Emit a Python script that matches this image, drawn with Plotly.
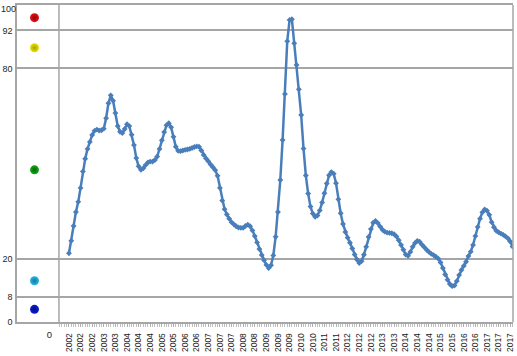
import plotly.graph_objects as go

# ---- data ----
start_year = 2002
n_months = 192
months = [f"{start_year + k // 12}-{k % 12 + 1:02d}" for k in range(n_months)]

values = [
    21.7, 25.6, 30.3, 34.7, 37.9, 42.3, 47.5, 51.5, 54.6, 56.8,
    59.0, 60.3, 60.7, 60.4, 60.5, 61.0, 64.3, 69.0, 71.5, 69.8,
    65.9, 61.8, 60.0, 59.6, 60.9, 62.4, 61.8, 59.1, 55.8, 51.7,
    49.1, 48.0, 48.5, 49.5, 50.3, 50.6, 50.6, 51.1, 52.2, 54.6,
    57.3, 59.9, 62.1, 62.7, 61.4, 58.4, 55.3, 54.0, 53.9, 54.1,
    54.3, 54.4, 54.6, 54.9, 55.2, 55.4, 55.3, 54.1, 52.7, 51.6,
    50.7, 49.7, 48.8, 47.9, 46.1, 42.3, 38.3, 35.6, 33.9, 32.6,
    31.5, 30.8, 30.2, 29.8, 29.7, 29.7, 30.3, 30.7, 30.2, 28.9,
    27.1, 25.1, 23.0, 21.1, 19.5, 18.0, 17.0, 17.9, 21.0, 26.9,
    34.7, 44.8, 57.4, 71.9, 88.6, 95.3, 95.5, 87.9, 81.1, 73.4,
    65.3, 54.7, 46.2, 40.5, 36.4, 34.2, 33.2, 33.6, 35.2, 37.7,
    40.6, 43.7, 46.3, 47.3, 46.8, 43.8, 38.7, 34.3, 30.9, 28.4,
    26.6, 25.0, 23.2, 21.3, 19.7, 18.6, 19.2, 21.2, 23.7, 26.8,
    29.3, 31.3, 31.9, 31.2, 30.1, 29.1, 28.5, 28.2, 28.1, 28.0,
    27.7, 27.0, 25.8, 24.3, 22.8, 21.3, 20.9, 22.1, 23.7, 24.9,
    25.6, 25.3, 24.4, 23.6, 22.8, 22.1, 21.5, 21.1, 20.6, 20.0,
    18.8, 17.0, 15.0, 13.3, 12.0, 11.3, 11.5, 12.9, 14.8, 16.4,
    17.7, 19.0, 20.8, 22.2, 24.3, 27.1, 30.0, 32.6, 34.6, 35.5,
    35.1, 33.8, 31.5, 29.9, 28.8, 28.3, 27.9, 27.5, 27.0, 26.4,
    25.4, 23.8,
]

label_every = 5
zone_ticks = [0, 8, 20, 80, 92, 100]
zone_dot_values = [96, 86.5, 48, 13, 4]
zone_dot_colors = ["#e5121b", "#e8e400", "#14a814", "#2cb6e0", "#0a1ed8"]
zone_dot_shades = ["#9a0000", "#a8a000", "#066806", "#0a7aa8", "#000a80"]

# ---- figure ----
idx = list(range(len(values)))
tick_idx = idx[::label_every]
tick_txt = [months[i][:4] for i in tick_idx]
y_top = zone_ticks[-1]

grid_col = "#a6a6a6"
line_col = "#4a7ebb"
txt_col = "#262626"

fig = go.Figure()

fig.add_trace(go.Scatter(
    x=[0] * len(zone_dot_values), y=zone_dot_values,
    xaxis="x", yaxis="y", mode="markers",
    marker=dict(size=9, color=zone_dot_colors,
                gradient=dict(type="radial", color=zone_dot_shades),
                line=dict(width=0)),
    hoverinfo="skip", showlegend=False,
))

fig.add_trace(go.Scatter(
    x=idx, y=values, xaxis="x2", yaxis="y", mode="lines+markers",
    line=dict(color=line_col, width=2.5),
    marker=dict(symbol="diamond", size=4.5, color=line_col),
    showlegend=False,
))

split = (59 - 17) / (513.5 - 17)

fig.update_layout(
    width=517, height=356,
    margin=dict(l=17, r=4, t=5, b=34, autoexpand=False),
    paper_bgcolor="white", plot_bgcolor="white",
    font=dict(family="Liberation Sans, Arial, sans-serif", color=txt_col, size=9),
    xaxis=dict(
        domain=[0, split], range=[-0.834, 1.166], automargin=False,
        tickmode="array", tickvals=[0], ticktext=["0"],
        ticks="", showgrid=False, zeroline=False,
        showline=True, linecolor=grid_col, linewidth=1.5, mirror=True,
        ticklabelshift=15, ticklabelstandoff=3, ticklabeloverflow="allow",
        tickfont=dict(size=9.5),
        fixedrange=True,
    ),
    xaxis2=dict(
        domain=[split, 1], range=[-4.3, 191.2], anchor="y", automargin=False,
        tickmode="array", tickvals=tick_idx, ticktext=tick_txt,
        tickangle=-90, tickfont=dict(size=8.5, color="#1a1a1a"),
        ticklabeloverflow="allow", ticklabelstandoff=3,
        ticks="outside", ticklen=3, tickcolor="#b0b0b0", tickwidth=1,
        minor=dict(dtick=1, tick0=0, ticks="outside", ticklen=3,
                   tickcolor="#c0c0c0", tickwidth=1, showgrid=False),
        showgrid=False, zeroline=False,
        showline=True, linecolor=grid_col, linewidth=1.5, mirror=True,
    ),
    yaxis=dict(
        range=[0, 100], tickmode="array", tickvals=zone_ticks, automargin=False,
        ticktext=[str(v) for v in zone_ticks[:-1]] + [""],
        showgrid=True, gridcolor=grid_col, gridwidth=1.5,
        zeroline=False, ticks="", ticklabelstandoff=1,
        ticklabeloverflow="allow",
        showline=True, linecolor=grid_col, linewidth=1.5,
        tickfont=dict(size=9),
    ),
    annotations=[
        dict(text=str(y_top), xref="paper", yref="y", x=0, y=y_top,
             xanchor="right", yanchor="middle", xshift=0, yshift=-4,
             borderpad=0, showarrow=False, font=dict(size=9, color=txt_col)),
    ],
    shapes=[
        dict(type="line", xref="paper", yref="paper", x0=split, x1=split,
             y0=0, y1=1, line=dict(color=grid_col, width=1.5)),
        dict(type="line", xref="paper", yref="paper", x0=1, x1=1,
             y0=0, y1=1, line=dict(color=grid_col, width=1.5)),
    ],
)

fig.write_html("out.html")
